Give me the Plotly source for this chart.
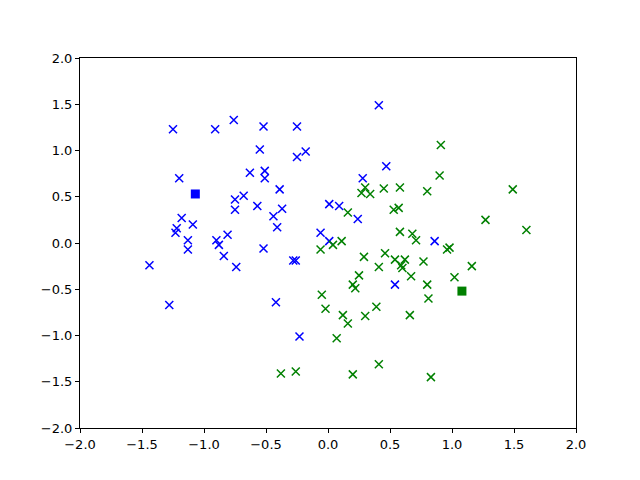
import plotly.graph_objects as go

# blue class points
blue_x = [-1.25, -0.91, -0.76, -0.52, -0.25, -0.55, -0.18, -0.25, -1.20, -0.63,
          -0.51, -0.51, -0.39, 0.01, 0.09, -0.75, -0.68, -0.75, -0.57, -0.37,
          -0.44, -0.41, -1.18, -1.09, -1.22, -1.23, -0.81, -1.13, -1.13, -0.06,
          -0.90, -0.88, -0.84, -0.74, -0.52, -1.44, -1.28, -0.42, -0.23, -0.28,
          -0.26, 0.41, 0.47, 0.28, 0.24, 0.01, 0.54, 0.86]
blue_y = [1.23, 1.23, 1.33, 1.26, 1.26, 1.01, 0.99, 0.93, 0.70, 0.76,
          0.78, 0.70, 0.58, 0.42, 0.40, 0.47, 0.51, 0.36, 0.40, 0.37,
          0.29, 0.17, 0.27, 0.20, 0.16, 0.11, 0.09, 0.03, -0.07, 0.11,
          0.03, -0.02, -0.14, -0.26, -0.06, -0.24, -0.67, -0.64, -1.01, -0.19,
          -0.19, 1.49, 0.83, 0.70, 0.26, 0.02, -0.45, 0.02]

# green class points
green_x = [0.30, 0.27, 0.34, 0.45, 0.58, 0.80, 0.16, 0.53, 0.57, 0.58,
           0.68, 0.71, 0.11, 0.04, -0.06, 0.29, 0.46, 0.41, 0.54, 0.62,
           0.59, 0.60, 0.77, 0.67, 0.25, 0.20, 0.22, -0.05, 0.80, 0.91,
           0.90, 1.49, 1.27, 1.60, 0.96, 0.98, 1.16, 1.02, 0.81, -0.02,
           0.12, 0.16, 0.30, 0.39, 0.66, 0.07, 0.41, 0.20, 0.83, -0.38,
           -0.26]
green_y = [0.60, 0.54, 0.53, 0.59, 0.60, 0.56, 0.33, 0.36, 0.38, 0.12,
           0.10, 0.03, 0.02, -0.02, -0.07, -0.15, -0.11, -0.26, -0.18, -0.18,
           -0.24, -0.27, -0.20, -0.36, -0.35, -0.45, -0.49, -0.56, -0.45, 1.06,
           0.73, 0.58, 0.25, 0.14, -0.07, -0.05, -0.25, -0.37, -0.60, -0.71,
           -0.78, -0.87, -0.79, -0.69, -0.78, -1.03, -1.31, -1.42, -1.45, -1.41,
           -1.39]

# class centres
centre_x = [-1.07, 1.08]
centre_y = [0.53, -0.52]
centre_colors = ['#0000ff', '#008000']

ticks = [-2.0, -1.5, -1.0, -0.5, 0.0, 0.5, 1.0, 1.5, 2.0]
tick_text = [f'{t:.1f}'.replace('-', '\u2212') for t in ticks]

fig = go.Figure()

fig.add_trace(go.Scatter(
    x=blue_x, y=blue_y, mode='markers',
    marker=dict(symbol='x-thin', size=8, color='#0000ff',
                line=dict(width=1.5, color='#0000ff')),
))
fig.add_trace(go.Scatter(
    x=green_x, y=green_y, mode='markers',
    marker=dict(symbol='x-thin', size=8, color='#008000',
                line=dict(width=1.5, color='#008000')),
))
fig.add_trace(go.Scatter(
    x=centre_x, y=centre_y, mode='markers',
    marker=dict(symbol='square', size=9, color=centre_colors,
                line=dict(width=0)),
))

axis_style = dict(
    range=[-2, 2], tickvals=ticks, ticktext=tick_text,
    showgrid=False, zeroline=False, showline=True, mirror=True,
    linecolor='black', linewidth=1, ticks='outside', ticklen=4,
    tickcolor='black', tickfont=dict(size=13, color='black'),
)

# page body has an 8px margin, so the figure sits 8px in from the corner
fig.update_layout(
    width=640, height=480,
    plot_bgcolor='white', paper_bgcolor='white',
    font=dict(family='DejaVu Sans', color='black'),
    margin=dict(l=72, r=72, t=50, b=60),
    showlegend=False,
    xaxis=axis_style,
    yaxis=axis_style,
)

fig.write_html("out.html")
